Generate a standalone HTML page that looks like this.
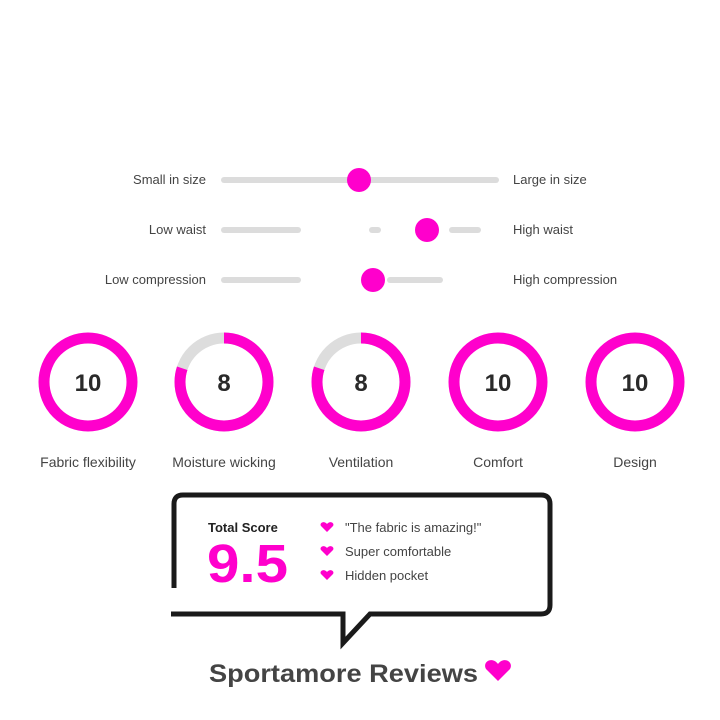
<!DOCTYPE html>
<html><head><meta charset="utf-8"><style>
html,body{margin:0;padding:0;background:#fff;width:720px;height:720px;overflow:hidden}
</style></head><body>
<svg width="720" height="720" viewBox="0 0 720 720" xmlns="http://www.w3.org/2000/svg" font-family="Liberation Sans, sans-serif">
<rect width="720" height="720" fill="#fff"/>
<g stroke="#dcdcdc" stroke-width="6" stroke-linecap="round">
<line x1="224" y1="180" x2="496" y2="180"/>
<line x1="224" y1="230" x2="298" y2="230"/>
<line x1="372" y1="230" x2="378" y2="230"/>
<line x1="452" y1="230" x2="478" y2="230"/>
<line x1="224" y1="280" x2="298" y2="280"/>
<line x1="390" y1="280" x2="440" y2="280"/>
</g>
<g fill="#ff00cc">
<circle cx="359" cy="180" r="12"/>
<circle cx="427" cy="230" r="12"/>
<circle cx="373" cy="280" r="12"/>
</g>
<g font-size="13" fill="#444">
<text x="206" y="184" text-anchor="end">Small in size</text>
<text x="206" y="234" text-anchor="end">Low waist</text>
<text x="206" y="284" text-anchor="end">Low compression</text>
<text x="513" y="184">Large in size</text>
<text x="513" y="234">High waist</text>
<text x="513" y="284">High compression</text>
</g>
<g fill="none" stroke-width="11">
<circle cx="88" cy="382" r="44" stroke="#ff00cc"/>
<circle cx="224" cy="382" r="44" stroke="#dddddd"/>
<circle cx="224" cy="382" r="44" stroke="#ff00cc" stroke-dasharray="221 300" transform="rotate(-90 224 382)"/>
<circle cx="361" cy="382" r="44" stroke="#dddddd"/>
<circle cx="361" cy="382" r="44" stroke="#ff00cc" stroke-dasharray="221 300" transform="rotate(-90 361 382)"/>
<circle cx="498" cy="382" r="44" stroke="#ff00cc"/>
<circle cx="635" cy="382" r="44" stroke="#ff00cc"/>
</g>
<g font-size="24" font-weight="bold" fill="#2a2a2a" text-anchor="middle">
<text x="88" y="391">10</text>
<text x="224" y="391">8</text>
<text x="361" y="391">8</text>
<text x="498" y="391">10</text>
<text x="635" y="391">10</text>
</g>
<g font-size="14" fill="#444" text-anchor="middle">
<text x="88" y="467">Fabric flexibility</text>
<text x="224" y="467">Moisture wicking</text>
<text x="361" y="467">Ventilation</text>
<text x="498" y="467">Comfort</text>
<text x="635" y="467">Design</text>
</g>
<path d="M174 588 V504 Q174 495 183 495 H541 Q550 495 550 504 V605 Q550 614 541 614 H370 L343 643 V614 H171" fill="none" stroke="#1a1a1a" stroke-width="5" stroke-linejoin="miter"/>
<text x="208" y="532" font-size="13" font-weight="bold" fill="#222">Total Score</text>
<text x="207" y="582" font-size="54" font-weight="bold" fill="#ff00cc" textLength="81" lengthAdjust="spacingAndGlyphs">9.5</text>
<g fill="#ff00cc">
<path d="M327 524 c-3 -4 -8 -1 -6 2 l6 6 l6 -6 c2 -3 -3 -6 -6 -2z"/>
<path d="M327 548 c-3 -4 -8 -1 -6 2 l6 6 l6 -6 c2 -3 -3 -6 -6 -2z"/>
<path d="M327 572 c-3 -4 -8 -1 -6 2 l6 6 l6 -6 c2 -3 -3 -6 -6 -2z"/>
</g>
<g font-size="13" fill="#444">
<text x="345" y="532">"The fabric is amazing!"</text>
<text x="345" y="556">Super comfortable</text>
<text x="345" y="580">Hidden pocket</text>
</g>
<text x="209" y="682" font-size="25" font-weight="bold" fill="#444" textLength="269" lengthAdjust="spacingAndGlyphs">Sportamore Reviews</text>
<path d="M498 664 c-6 -8 -16 -2 -12 5 l12 12 l12 -12 c4 -7 -6 -13 -12 -5z" fill="#ff00cc"/>
</svg>
</body></html>
